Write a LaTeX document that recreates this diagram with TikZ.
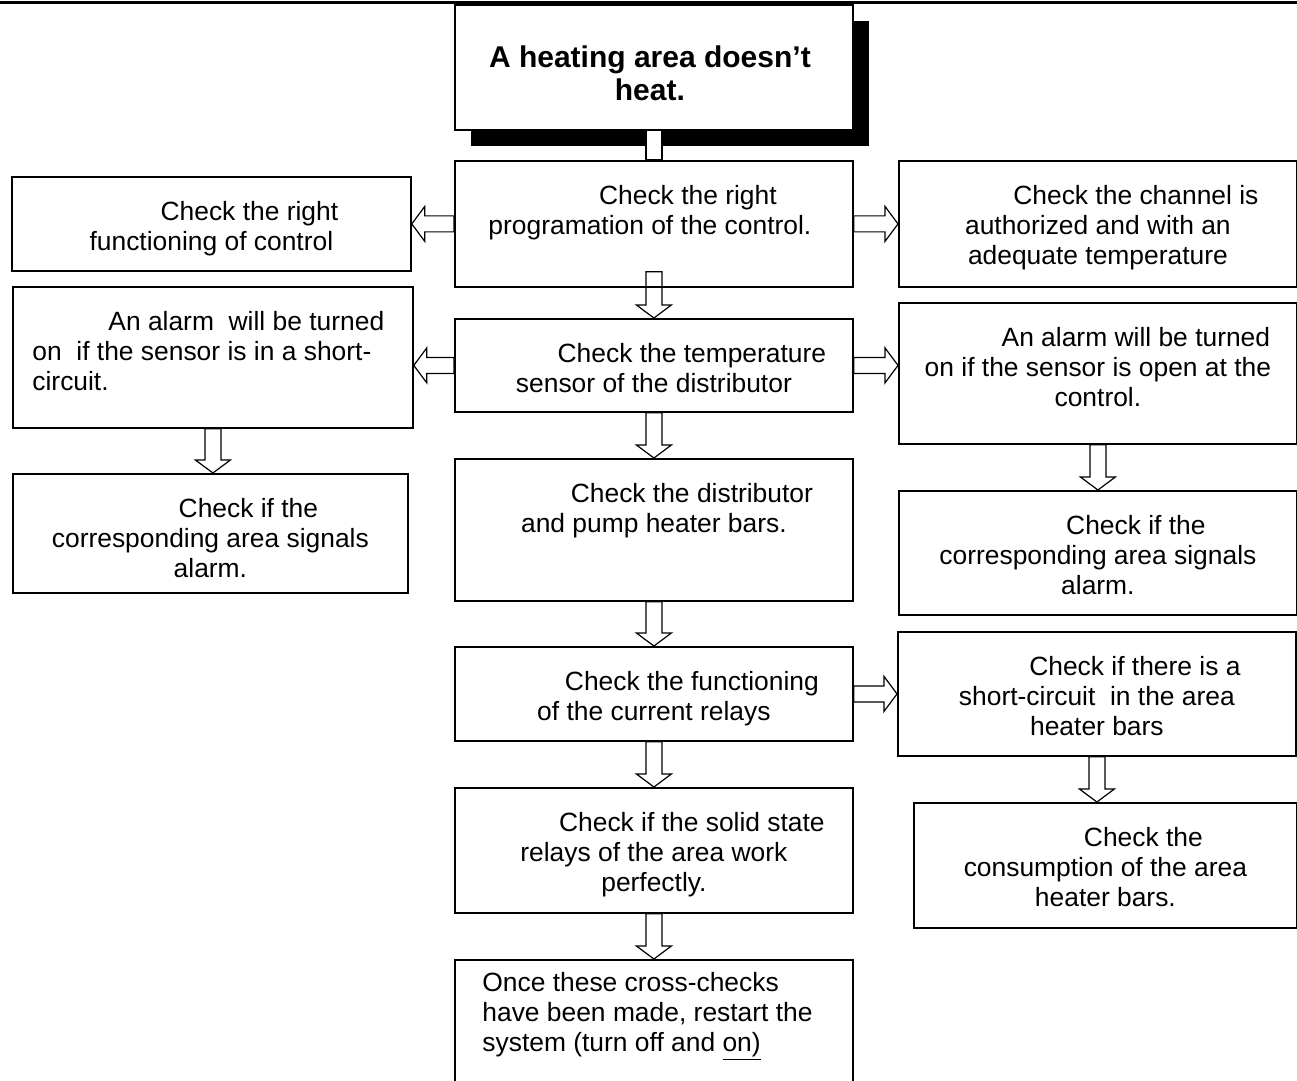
\documentclass[tikz,border=0pt]{standalone}
\usepackage{fontspec}
\setmainfont{Liberation Sans}
\usetikzlibrary{positioning,calc,shadows}

\tikzset{
  box/.style={draw, line width=0.9pt, anchor=north west, inner sep=0pt},
  txt/.style={align=center, inner sep=0pt, font=\fontsize{13.2}{15}\selectfont},
  hollowline/.style={line width=0.6pt},
  hollow/.style={hollowline, to path={
      ($(\tikztotarget)!6.5pt!(\tikztostart)$) coordinate (hb)
      ($(\tikztostart)!4pt!90:(\tikztotarget)$) -- ($(hb)!4pt!90:(\tikztotarget)$)
      -- ($(hb)!8.75pt!90:(\tikztotarget)$) -- (\tikztotarget)
      -- ($(hb)!8.75pt!-90:(\tikztotarget)$) -- ($(hb)!4pt!-90:(\tikztotarget)$)
      -- ($(\tikztostart)!4pt!-90:(\tikztotarget)$) -- cycle}}
}
\newcommand{\fli}{\hspace*{38pt}}

\begin{document}
\begin{tikzpicture}[x=0.5pt,y=-0.5pt]
	\useasboundingbox (0,0) rectangle (1297,1081);
	\draw[line width=1.5pt] (0,3) -- (1297,3);
	
	\node[box, fill=white, general shadow={fill=black, shadow xshift=8.25pt, shadow yshift=-8.25pt}, minimum width=199pt, minimum height=62.5pt] (top) at (454,4) {};
	\node[txt, font=\fontsize{15}{16.5}\selectfont\bfseries, below=20.5pt of top.north, xshift=-2pt] (top-t) {A heating area doesn’t\\heat.};
	
	\node[box, minimum width=199pt, minimum height=63pt] (prog) at (454,160) {};
	\node[box, minimum width=199.5pt, minimum height=47pt] (ctrl) at (11,176) {};
	\node[box, minimum width=199pt, minimum height=63pt] (chan) at (898,160) {};
	\node[box, minimum width=199pt, minimum height=46.5pt] (temp) at (454,318) {};
	\node[box, minimum width=200pt, minimum height=70.5pt] (shortal) at (12,286) {};
	\node[box, minimum width=199pt, minimum height=70.5pt] (openal) at (898,302) {};
	\node[box, minimum width=197.5pt, minimum height=59.5pt] (sigl) at (12,473) {};
	\node[box, minimum width=199pt, minimum height=62pt] (sigr) at (898,490) {};
	\node[box, minimum width=199pt, minimum height=71pt] (bars) at (454,458) {};
	\node[box, minimum width=199pt, minimum height=47pt] (relays) at (454,646) {};
	\node[box, minimum width=199pt, minimum height=62pt] (shortck) at (897,631) {};
	\node[box, minimum width=199pt, minimum height=62.5pt] (ssr) at (454,787) {};
	\node[box, minimum width=191.5pt, minimum height=62.5pt] (consum) at (913,802) {};
	\node[box, minimum width=199pt, minimum height=72pt] (restart) at (454,959) {};
	
	\node[txt, below=12.5pt of prog.north, xshift=-2pt] (prog-t) {\fli Check the right\\programation of the control.};
	\node[txt, below=12.5pt of ctrl.north] (ctrl-t) {\fli Check the right\\functioning of control};
	\node[txt, below=12.5pt of chan.north] (chan-t) {\fli Check the channel is\\authorized and with an\\adequate temperature};
	\node[txt, below=12.5pt of temp.north] (temp-t) {\fli Check the temperature\\sensor of the distributor};
	\node[txt, align=left, below right=12.5pt and 10pt of shortal.north west] (shortal-t) {\fli An alarm\ \ will be turned\\on\ \ if the sensor is in a short-\\circuit.};
	\node[txt, below=12.5pt of openal.north] (openal-t) {\fli An alarm will be turned\\on if the sensor is open at the\\control.};
	\node[txt, below=12.5pt of sigl.north] (sigl-t) {\fli Check if the\\corresponding area signals\\alarm.};
	\node[txt, below=12.5pt of sigr.north] (sigr-t) {\fli Check if the\\corresponding area signals\\alarm.};
	\node[txt, below=12.5pt of bars.north] (bars-t) {\fli Check the distributor\\and pump heater bars.};
	\node[txt, below=12.5pt of relays.north] (relays-t) {\fli Check the functioning\\of the current relays};
	\node[txt, below=12.5pt of shortck.north] (shortck-t) {\fli Check if there is a\\short-circuit\ \ in the area\\heater bars};
	\node[txt, below=12.5pt of ssr.north] (ssr-t) {\fli Check if the solid state\\relays of the area work\\perfectly.};
	\node[txt, below=12.5pt of consum.north] (consum-t) {\fli Check the\\consumption of the area\\heater bars.};
	\node[txt, align=left, below right=6.5pt and 14pt of restart.north west] (restart-t) {Once these cross-checks\\have been made, restart the\\system (turn off and \underline{on)}};
	
	\draw[hollowline, fill=white] ([xshift=-4pt]top.south) rectangle ([xshift=4pt]prog.north);
	\draw[hollow] ([yshift=8pt]prog.south) to (temp.north);
	\draw[hollow] (prog.west) to (prog.west -| ctrl.east);
	\draw[hollow] (prog.east) to (prog.east -| chan.west);
	\draw[hollow] (temp.west) to (temp.west -| shortal.east);
	\draw[hollow] (temp.east) to (temp.east -| openal.west);
	\draw[hollow] (temp.south) to (bars.north);
	\draw[hollow] (bars.south) to (relays.north);
	\draw[hollow] (relays.east) to (relays.east -| shortck.west);
	\draw[hollow] (relays.south) to (ssr.north);
	\draw[hollow] (ssr.south) to (restart.north);
	\draw[hollow] (shortal.south) to (shortal.south |- sigl.north);
	\draw[hollow] (openal.south) to (openal.south |- sigr.north);
	\draw[hollow] (shortck.south) to (shortck.south |- consum.north);
	
\end{tikzpicture}
\end{document}
